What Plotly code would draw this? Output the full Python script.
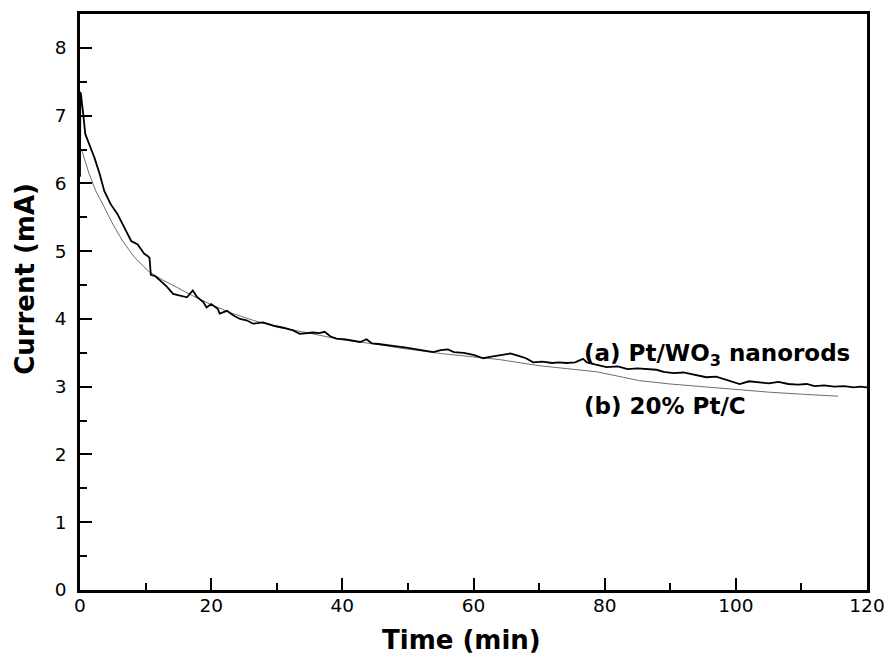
import plotly.graph_objects as go

# Series (a) Pt/WO3 nanorods
t_a = [0, 0.05, 0.15, 0.5, 0.8, 1.4, 2.2, 3.0, 3.7, 4.7, 5.7, 6.75, 7.8, 8.8, 9.8, 10.3, 10.6, 10.8,
       11.5, 12.2, 13.2, 14.2, 15.3, 16.3, 17.2, 17.8, 18.8, 19.3, 20.0, 21.0, 21.3, 22.4,
       23.4, 24.4, 25.4, 26.4, 27.9, 29.5, 31.0, 32.5, 33.5, 34.5, 35.5, 36.5, 37.3, 38.2,
       39.1, 40.5, 41.5, 42.7, 43.7, 44.5, 45.5, 46.8, 48.0, 49.5, 51.3, 52.5, 53.9, 55.0,
       56.1, 57.0, 58.5, 60.0, 61.5, 62.5, 64.0, 65.6, 67.0, 68.0, 69.1, 70.5, 72.0, 73.0,
       74.2, 75.5, 76.7, 77.3, 78.5, 80.3, 82.0, 83.5, 85.0, 86.5, 87.9, 89.0, 90.5, 92.0,
       93.5, 95.5, 97.0, 98.5, 100.0, 100.6, 102.0, 103.5, 105.0, 106.5, 108.0, 109.5,
       110.8, 112.0, 113.5, 115.0, 116.5, 118.0, 119.0, 120.0]
i_a = [6.10, 7.35, 7.31, 7.02, 6.73, 6.58, 6.38, 6.14, 5.89, 5.69, 5.55, 5.35, 5.15, 5.10, 4.96, 4.93, 4.90, 4.65,
       4.63, 4.57, 4.48, 4.37, 4.34, 4.32, 4.42, 4.33, 4.25, 4.17, 4.22, 4.15, 4.08, 4.12,
       4.05, 4.00, 3.98, 3.93, 3.95, 3.90, 3.87, 3.83, 3.78, 3.79, 3.80, 3.79, 3.81, 3.74,
       3.71, 3.70, 3.68, 3.66, 3.70, 3.64, 3.63, 3.61, 3.60, 3.58, 3.55, 3.53, 3.51, 3.54,
       3.55, 3.51, 3.50, 3.47, 3.42, 3.44, 3.46, 3.49, 3.45, 3.42, 3.36, 3.37, 3.35, 3.36,
       3.35, 3.36, 3.41, 3.36, 3.33, 3.29, 3.30, 3.26, 3.27, 3.26, 3.25, 3.22, 3.20, 3.21,
       3.18, 3.14, 3.15, 3.10, 3.06, 3.04, 3.08, 3.06, 3.05, 3.07, 3.04, 3.03,
       3.04, 3.01, 3.02, 3.00, 3.01, 2.99, 3.00, 2.99]

# Series (b) 20% Pt/C
t_b = [0.2, 0.4, 1.4, 2.4, 3.7, 5.0, 6.5, 8.3, 10.5, 12.5, 14.7, 17.0, 19.8, 23.0, 26.4, 30.0, 35.0,
       40.0, 45.0, 48.8, 55.0, 60.0, 64.0, 70.0, 75.0, 78.8, 85.3, 90.0, 95.0, 100.6, 105.0,
       110.0, 115.6]
i_b = [6.50, 6.45, 6.14, 5.89, 5.65, 5.40, 5.15, 4.91, 4.70, 4.58, 4.47, 4.35, 4.22, 4.09, 3.98, 3.88, 3.79,
       3.69, 3.63, 3.57, 3.49, 3.44, 3.40, 3.31, 3.26, 3.22, 3.09, 3.04, 3.00, 2.95, 2.92,
       2.89, 2.86]

x_ticks = [0, 20, 40, 60, 80, 100, 120]
y_ticks = [0, 1, 2, 3, 4, 5, 6, 7, 8]

label_a = "(a) Pt/WO<sub>3</sub> nanorods"
label_b = "(b) 20% Pt/C"
x_title = "Time (min)"
y_title = "Current (mA)"

fig = go.Figure()
fig.add_trace(go.Scatter(x=t_b, y=i_b, mode="lines",
                         line=dict(color="#6e6e6e", width=1), showlegend=False))
fig.add_trace(go.Scatter(x=t_a, y=i_a, mode="lines",
                         line=dict(color="black", width=1.8), showlegend=False))

tickfont = dict(family="DejaVu Sans", size=18.5, color="black")
fig.update_layout(
    width=891, height=658,
    margin=dict(l=80, r=24, t=14, b=68),
    paper_bgcolor="white", plot_bgcolor="white",
    xaxis=dict(range=[0, 120], tickvals=x_ticks, ticks="inside", ticklen=12, tickwidth=2,
               tickcolor="black", showline=True, linewidth=2.5, linecolor="black",
               mirror=True, showgrid=False, zeroline=False, tickfont=tickfont,
               ticklabelstandoff=-3, automargin=False,
               minor=dict(dtick=10, ticks="inside", ticklen=7, tickwidth=2, tickcolor="black",
                          showgrid=False)),
    yaxis=dict(range=[0, 8.5], tickvals=y_ticks, ticks="inside", ticklen=12, tickwidth=2,
               tickcolor="black", showline=True, linewidth=2.5, linecolor="black",
               mirror=True, showgrid=False, zeroline=False, tickfont=tickfont,
               ticklabelstandoff=7, automargin=False,
               minor=dict(dtick=0.5, ticks="inside", ticklen=7, tickwidth=2, tickcolor="black",
                          showgrid=False)),
    annotations=[
        dict(text=label_a, x=76.6, y=3.47, xref="x", yref="y", xanchor="left", yanchor="middle",
             showarrow=False, font=dict(family="DejaVu Sans", size=23, color="black", weight="bold")),
        dict(text=label_b, x=76.6, y=2.72, xref="x", yref="y", xanchor="left", yanchor="middle",
             showarrow=False, font=dict(family="DejaVu Sans", size=23, color="black", weight="bold")),
        dict(text=x_title, x=0.4848, y=-0.087, xref="paper", yref="paper", xanchor="center",
             yanchor="middle", showarrow=False,
             font=dict(family="DejaVu Sans", size=26, color="black", weight="bold")),
        dict(text=y_title, x=-0.07, y=0.54, xref="paper", yref="paper", xanchor="center",
             yanchor="middle", textangle=-90, showarrow=False,
             font=dict(family="DejaVu Sans", size=26, color="black", weight="bold")),
    ],
)

fig.write_html("out.html", config={"displayModeBar": False},
               post_script="document.body.style.margin='0';document.body.style.overflow='hidden';")
